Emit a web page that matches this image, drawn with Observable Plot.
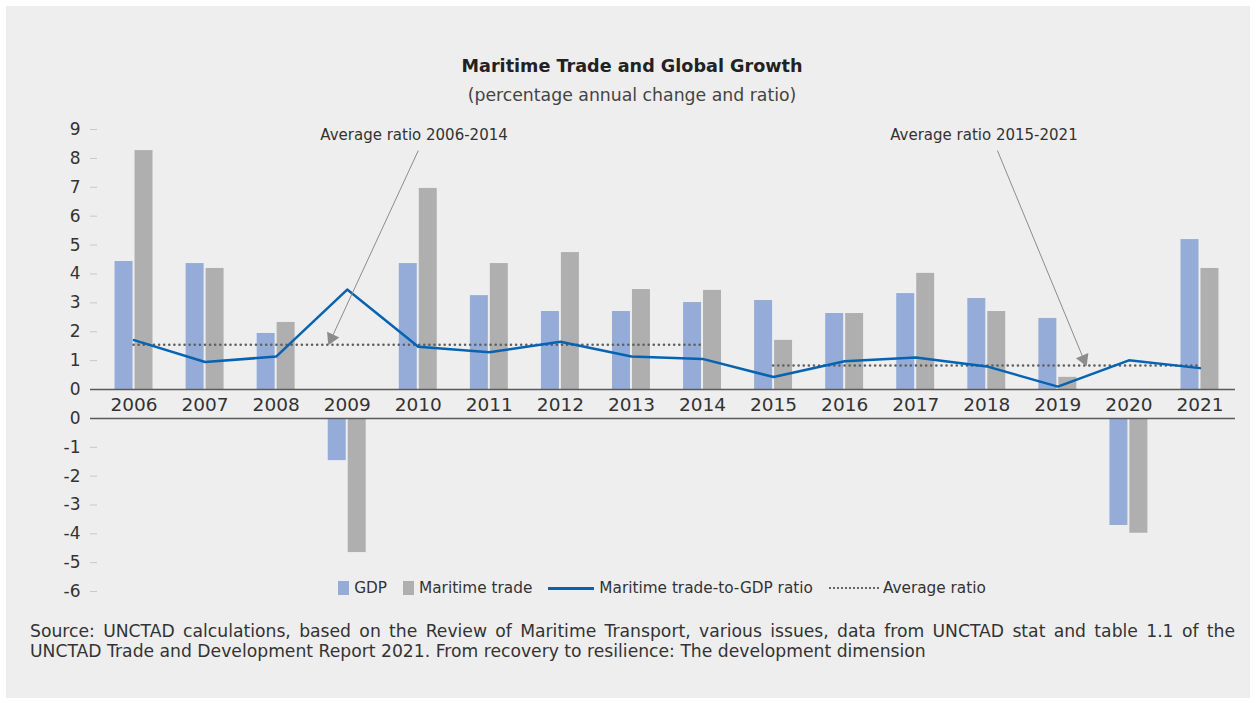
<!DOCTYPE html>
<html>
<head>
<meta charset="utf-8">
<script src="https://cdn.jsdelivr.net/npm/d3@7"></script>
<script src="https://cdn.jsdelivr.net/npm/@observablehq/plot@0.6"></script>
<style>
  html, body { margin: 0; padding: 0; background: #ffffff; }
  body { width: 1257px; height: 703px; position: relative; overflow: hidden; font-family: "DejaVu Sans", sans-serif; color: #333; }
  #panel { position: absolute; left: 6px; top: 6px; width: 1244px; height: 692px; background: #eeeeee; }
  #title { position: absolute; left: 0; width: 1264px; top: 56px; text-align: center; font-size: 17.6px; font-weight: 700; color: #222; }
  #subtitle { position: absolute; left: 0; width: 1264px; top: 85px; text-align: center; font-size: 17.3px; color: #444; }
  #top { position: absolute; left: 0; top: 115px; }
  #bottom { position: absolute; left: 0; top: 405px; }
  #legend { position: absolute; left: 0; width: 1324px; top: 579px; display: flex; justify-content: center; align-items: center; font-size: 15.3px; color: #333; }
  .item { display: flex; align-items: center; margin: 0 8px; }
  .sw { display: inline-block; width: 11px; height: 14px; margin-right: 5px; }
  .ln { display: inline-block; width: 46px; height: 0; border-top: 3px solid #0563b1; margin-right: 5px; }
  .dt { display: inline-block; width: 50px; height: 0; border-top: 2px dotted #666; margin-right: 4px; }
  #source { position: absolute; left: 30px; top: 621px; width: 1205px; font-size: 17.2px; line-height: 20px; text-align: justify; color: #333; }
</style>
</head>
<body>
<div id="panel"></div>
<div id="title">Maritime Trade and Global Growth</div>
<div id="subtitle">(percentage annual change and ratio)</div>
<div id="top"></div>
<div id="bottom"></div>
<div id="legend"></div>
<div id="source">Source: UNCTAD calculations, based on the Review of Maritime Transport, various issues, data from UNCTAD stat and table 1.1 of the UNCTAD Trade and Development Report 2021. From recovery to resilience: The development dimension</div>
<script>
// ---- data ----
const years = [2006, 2007, 2008, 2009, 2010, 2011, 2012, 2013, 2014, 2015, 2016, 2017, 2018, 2019, 2020, 2021];
const gdp = [4.43, 4.36, 1.94, -1.46, 4.36, 3.25, 2.70, 2.70, 3.01, 3.08, 2.63, 3.32, 3.15, 2.46, -3.71, 5.19];
const maritimeTrade = [8.27, 4.19, 2.32, -4.65, 6.96, 4.36, 4.74, 3.46, 3.43, 1.70, 2.63, 4.02, 2.70, 0.42, -3.98, 4.19];
const ratio = [1.71, 0.95, 1.14, 3.46, 1.48, 1.29, 1.65, 1.14, 1.06, 0.43, 0.98, 1.11, 0.80, 0.10, 1.01, 0.74];
const avgFrom = [2006, 2015];
const avgTo = [2014, 2021];
const avgValue = [1.55, 0.83];
const annotationLabels = ["Average ratio 2006-2014", "Average ratio 2015-2021"];
const annotationTextYear = [2009.94, 2017.96];
const annotationTextValue = [8.8, 8.8];
const arrowFromYear = [2010.0, 2018.15];
const arrowFromValue = [8.27, 8.27];
const arrowToYear = [2008.75, 2019.39];
const arrowToValue = [1.62, 0.89];
const topTicks = [0, 1, 2, 3, 4, 5, 6, 7, 8, 9];
const bottomTicks = [0, -1, -2, -3, -4, -5, -6];
const seriesNames = ["GDP", "Maritime trade", "Maritime trade-to-GDP ratio", "Average ratio"];

// ---- tables ----
const rows = years.map((year, i) => ({year, gdp: gdp[i], trade: maritimeTrade[i], ratio: ratio[i]}));
const avgs = avgFrom.map((f, i) => ({from: f, to: avgTo[i], value: avgValue[i]}));
const notes = annotationLabels.map((label, i) => ({
  label, tx: annotationTextYear[i], ty: annotationTextValue[i],
  x1: arrowFromYear[i], y1: arrowFromValue[i], x2: arrowToYear[i], y2: arrowToValue[i]
}));

const FONT = "'DejaVu Sans', sans-serif";
const GDP_COLOR = "#95acd8";
const TRADE_COLOR = "#afafaf";
const LINE_COLOR = "#0563b1";
const W = 1257, ML = 97, MR = 22, INSET = 1;
const xDomain = [2005.5, 2021.5];
const kx = (W - ML - MR - INSET) / (xDomain[1] - xDomain[0]);

// top chart geometry
const TOP_H = 303, TOP_MT = 14, TOP_MB = 29;
const ky = (TOP_H - TOP_MT - TOP_MB) / 9;

// arrowhead orientation (pixel space)
notes.forEach(n => {
  const dxp = (n.x2 - n.x1) * kx, dyp = -(n.y2 - n.y1) * ky;
  const len = Math.hypot(dxp, dyp);
  n.rot = Math.atan2(dxp, -dyp) * 180 / Math.PI;
  const back = 5;
  n.hx = n.x2 - (dxp / len) * back / kx;
  n.hy = n.y2 + (dyp / len) * back / ky;
});

const gdpX1 = d => d.year - 0.267, gdpX2 = d => d.year - 0.014;
const trX1 = d => d.year + 0.014, trX2 = d => d.year + 0.267;

const topPlot = Plot.plot({
  width: W, height: TOP_H,
  marginTop: TOP_MT, marginBottom: TOP_MB, marginLeft: ML, marginRight: MR,
  x: {domain: xDomain, insetLeft: INSET},
  y: {domain: [0, 9]},
  style: {background: "transparent", fontFamily: FONT, color: "#333", overflow: "visible"},
  marks: [
    Plot.axisY({ticks: topTicks, tickFormat: d => String(d), tickSize: 7, tickPadding: 10, stroke: "#c8c8c8", fill: "#333", fontSize: 17, label: null}),
    Plot.axisX({ticks: years, tickFormat: d => String(d), tickSize: 0, tickPadding: 8, fill: "#333", fontSize: 18.5, label: null}),
    Plot.rectY(rows.filter(d => d.gdp > 0), {x1: gdpX1, x2: gdpX2, y: "gdp", fill: GDP_COLOR}),
    Plot.rectY(rows.filter(d => d.trade > 0), {x1: trX1, x2: trX2, y: "trade", fill: TRADE_COLOR}),
    Plot.ruleY([0], {stroke: "#5a5a5a", strokeWidth: 1.5, insetLeft: -7}),
    Plot.ruleY(avgs, {y: "value", x1: "from", x2: "to", stroke: "#5f5f5f", strokeWidth: 2.5, strokeDasharray: "0.1,5", strokeLinecap: "round"}),
    Plot.line(rows, {x: "year", y: "ratio", stroke: LINE_COLOR, strokeWidth: 2.5}),
    Plot.link(notes, {x1: "x1", y1: "y1", x2: "x2", y2: "y2", stroke: "#8c8c8c", strokeWidth: 1}),
    Plot.dot(notes, {x: "hx", y: "hy", symbol: "triangle", r: 5, rotate: "rot", fill: "#8c8c8c", stroke: "none"}),
    Plot.text(notes, {x: "tx", y: "ty", text: "label", fontSize: 15, fill: "#333"})
  ]
});
document.getElementById("top").appendChild(topPlot);

const bottomPlot = Plot.plot({
  width: W, height: 196,
  marginTop: 13, marginBottom: 10, marginLeft: ML, marginRight: MR,
  x: {domain: xDomain, insetLeft: INSET, axis: null},
  y: {domain: [-6, 0]},
  style: {background: "transparent", fontFamily: FONT, color: "#333", overflow: "visible"},
  marks: [
    Plot.axisY({ticks: bottomTicks, tickFormat: d => String(d), tickSize: 7, tickPadding: 10, stroke: "#c8c8c8", fill: "#333", fontSize: 17, label: null}),
    Plot.rectY(rows.filter(d => d.gdp < 0), {x1: gdpX1, x2: gdpX2, y: "gdp", fill: GDP_COLOR}),
    Plot.rectY(rows.filter(d => d.trade < 0), {x1: trX1, x2: trX2, y: "trade", fill: TRADE_COLOR}),
    Plot.ruleY([0], {stroke: "#5a5a5a", strokeWidth: 1.5, insetLeft: -7})
  ]
});
document.getElementById("bottom").appendChild(bottomPlot);

// legend
const legend = document.getElementById("legend");
const swatches = [
  `<span class="sw" style="background:${GDP_COLOR}"></span>`,
  `<span class="sw" style="background:${TRADE_COLOR}"></span>`,
  `<span class="ln"></span>`,
  `<span class="dt"></span>`
];
seriesNames.forEach((name, i) => {
  const el = document.createElement("span");
  el.className = "item";
  el.innerHTML = swatches[i] + `<span>${name}</span>`;
  legend.appendChild(el);
});
</script>
</body>
</html>
